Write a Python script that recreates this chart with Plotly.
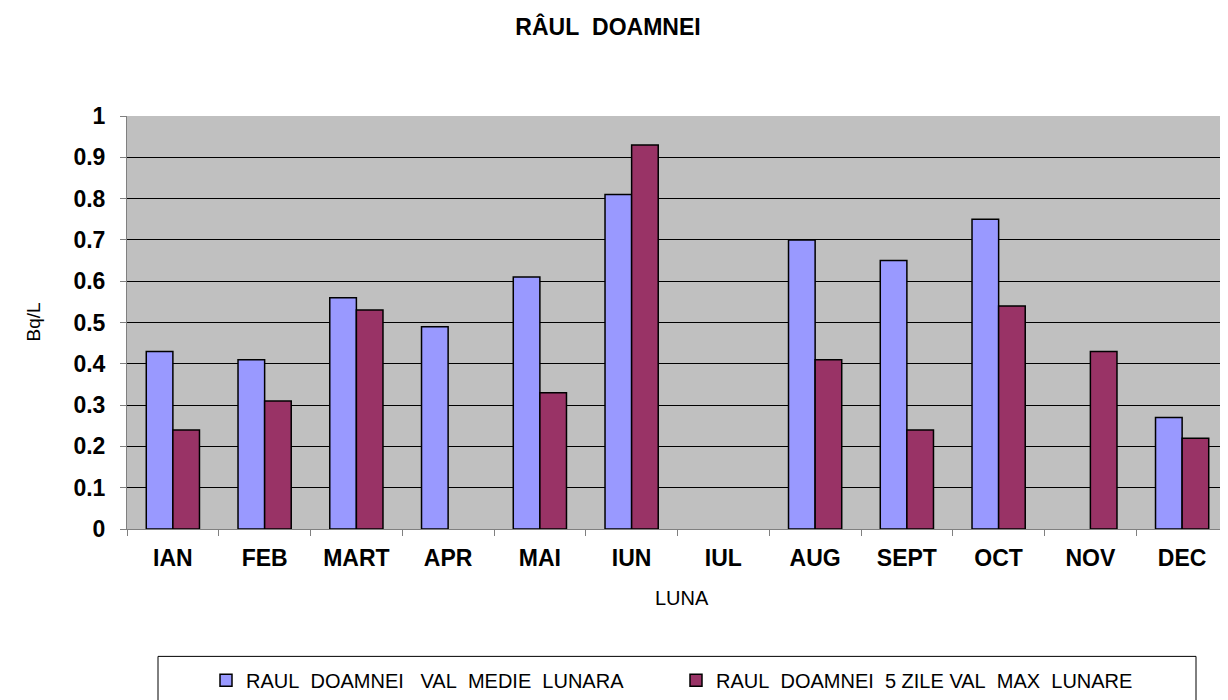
import plotly.graph_objects as go

# ── Data ───────────────────────────────────────────────────────────
MONTHS = ["IAN", "FEB", "MART", "APR", "MAI", "IUN",
          "IUL", "AUG", "SEPT", "OCT", "NOV", "DEC"]
MEDIE = [0.43, 0.41, 0.56, 0.49, 0.61, 0.81,
         None, 0.70, 0.65, 0.75, None, 0.27]
MAX_5ZILE = [0.24, 0.31, 0.53, None, 0.33, 0.93,
             None, 0.41, 0.24, 0.54, 0.43, 0.22]
Y_TICKS = [0, 0.1, 0.2, 0.3, 0.4, 0.5, 0.6, 0.7, 0.8, 0.9, 1]
Y_LABELS = ["0", "0.1", "0.2", "0.3", "0.4", "0.5", "0.6", "0.7", "0.8", "0.9", "1"]

NAME_MEDIE = "RAUL\u00a0\u00a0DOAMNEI\u00a0\u00a0\u00a0VAL\u00a0\u00a0MEDIE\u00a0\u00a0LUNARA"
NAME_MAX = "RAUL\u00a0\u00a0DOAMNEI\u00a0\u00a05\u00a0ZILE\u00a0VAL\u00a0\u00a0MAX\u00a0\u00a0LUNARE"
# ───────────────────────────────────────────────────────────────────

# the page body has an 8px margin, so the figure is drawn 8px smaller
# and everything is laid out in screen pixels minus that offset
OFF = 8
W, H = 1228 - OFF, 700 - OFF
L, R, T = 127 - OFF, 0, 116 - OFF
B = H - (531 - OFF)
PW, PH = W - L - R, H - T - B

FONT = "Liberation Sans, Arial, sans-serif"


def px_x(sx):
    # screen x -> paper x
    return (sx - OFF - L) / PW


def px_y(sy):
    # screen y -> paper y
    return (H - B - (sy - OFF)) / PH


fig = go.Figure()
fig.add_trace(go.Bar(
    x=MONTHS, y=MEDIE, name=NAME_MEDIE, legend="legend",
    marker=dict(color="#9999FF", line=dict(color="black", width=1.5)),
))
fig.add_trace(go.Bar(
    x=MONTHS, y=MAX_5ZILE, name=NAME_MAX, legend="legend2",
    marker=dict(color="#993366", line=dict(color="black", width=1.5)),
))

# legend frame
fig.add_shape(
    type="rect", xref="paper", yref="paper",
    x0=px_x(158), x1=px_x(1196), y0=px_y(659), y1=px_y(720),
    line=dict(color="black", width=1), fillcolor="rgba(0,0,0,0)",
)

fig.add_annotation(
    text="Bq/L", xref="paper", yref="paper", x=px_x(21), y=px_y(323),
    textangle=-90, showarrow=False, font=dict(size=19, color="black", family=FONT),
)
fig.add_annotation(
    text="LUNA", xref="paper", yref="paper", x=px_x(682), y=px_y(613),
    showarrow=False, font=dict(size=20, color="black", family=FONT),
)

legend_style = dict(
    orientation="h",
    yanchor="middle", y=px_y(683),
    xanchor="left",
    font=dict(size=20, family=FONT, color="black"),
    bgcolor="rgba(0,0,0,0)",
    borderwidth=0,
)

fig.update_layout(
    width=W, height=H,
    margin=dict(l=L, r=R, t=T, b=B),
    paper_bgcolor="white",
    plot_bgcolor="#C0C0C0",
    font=dict(family=FONT, color="black"),
    title=dict(
        text="<b>RÂUL\u00a0\u00a0DOAMNEI</b>",
        x=(608 - OFF) / W, xref="container", xanchor="center",
        y=1 - (27 - OFF) / H, yref="container", yanchor="middle",
        font=dict(size=23, family=FONT, color="black"),
    ),
    barmode="group",
    bargap=0.42,
    bargroupgap=0,
    showlegend=True,
    legend=dict(legend_style, x=px_x(206)),
    legend2=dict(legend_style, x=px_x(676)),
    xaxis=dict(
        type="category",
        tickson="boundaries",
        ticks="outside", ticklen=6, tickcolor="#808080",
        showline=True, linecolor="#808080", linewidth=1,
        showgrid=False,
        tickfont=dict(size=23, family=FONT, color="black", weight="bold"),
        ticklabelstandoff=8,
    ),
    yaxis=dict(
        range=[0, 1],
        tickvals=Y_TICKS, ticktext=Y_LABELS,
        ticks="outside", ticklen=6, tickcolor="#808080",
        showline=True, linecolor="#808080", linewidth=1,
        showgrid=True, gridcolor="black", gridwidth=1,
        zeroline=False,
        tickfont=dict(size=23, family=FONT, color="black", weight="bold"),
        ticklabelstandoff=10,
    ),
)

fig.write_html("out.html")
